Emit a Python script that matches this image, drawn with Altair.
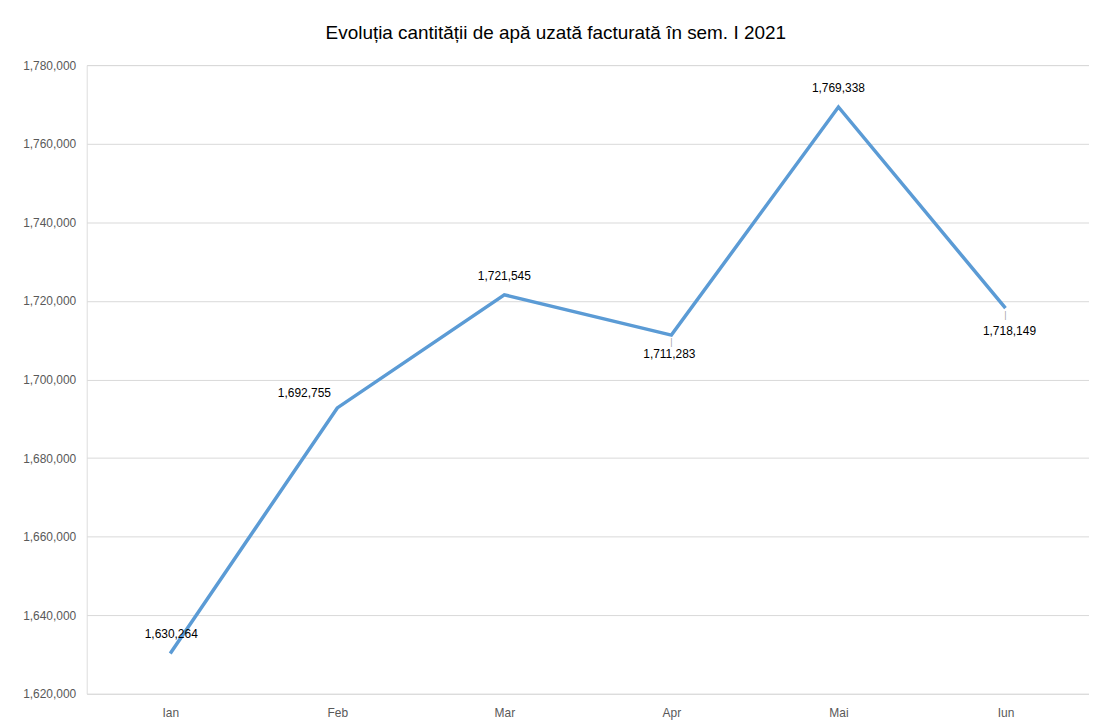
import altair as alt
import pandas as pd

months = ["Ian", "Feb", "Mar", "Apr", "Mai", "Iun"]
values = [1630264, 1692755, 1721545, 1711283, 1769338, 1718149]
y_ticks = [1620000, 1640000, 1660000, 1680000, 1700000, 1720000, 1740000, 1760000, 1780000]

df = pd.DataFrame({"luna": months, "val": values})
df["lbl"] = df["val"].map(lambda v: f"{v:,}")

FONT = "Liberation Sans"

x = alt.X("luna:N", sort=months, title=None,
          scale=alt.Scale(type="point", padding=0.5),
          axis=alt.Axis(labelAngle=0, domain=False, ticks=False, labelColor="#595959",
                        labelFont=FONT, labelFontSize=12, labelPadding=14, grid=False))
y = alt.Y("val:Q", title=None,
          scale=alt.Scale(domain=[1620000, 1780000], nice=False, zero=False),
          axis=alt.Axis(values=y_ticks, format=",d", domain=False, ticks=False,
                        labelColor="#595959", labelFont=FONT, labelFontSize=12,
                        labelPadding=11, gridColor="#d9d9d9", gridWidth=1))

base = alt.Chart(df)

line = base.mark_line(color="#5B9BD5", strokeWidth=3.5).encode(x=x, y=y)

def lab(names, dx, dy):
    return base.transform_filter(
        alt.FieldOneOfPredicate(field="luna", oneOf=names)
    ).mark_text(dx=dx, dy=dy, font=FONT, fontSize=12, color="#000000").encode(
        x=alt.X("luna:N", sort=months), y="val:Q", text="lbl:N")

labels = alt.layer(
    lab(["Ian"], 1, -20),
    lab(["Feb"], -33, -15),
    lab(["Mar", "Mai"], 0, -19),
    lab(["Apr"], -2, 19),
    lab(["Iun"], 4, 23),
)

leaders = base.transform_filter(
    alt.FieldOneOfPredicate(field="luna", oneOf=["Apr", "Iun"])
).mark_text(text="|", dy=7, fontSize=9, color="#a6a6a6", font=FONT).encode(
    x=alt.X("luna:N", sort=months), y="val:Q")

chart = alt.layer(line, leaders, labels).properties(
    width=1006, height=631,
    title=alt.TitleParams("Evoluția cantității de apă uzată facturată în sem. I 2021",
                          font=FONT, fontSize=19, fontWeight="normal", color="#000000",
                          offset=16, anchor="middle", frame="bounds"),
    autosize=alt.AutoSizeParams(type="none"),
    padding={"left": 79, "top": 56, "right": 0, "bottom": 25},
).configure_view(stroke=None).configure(background="white")

chart.save("out.html", embed_options={"renderer": "svg", "actions": False})
